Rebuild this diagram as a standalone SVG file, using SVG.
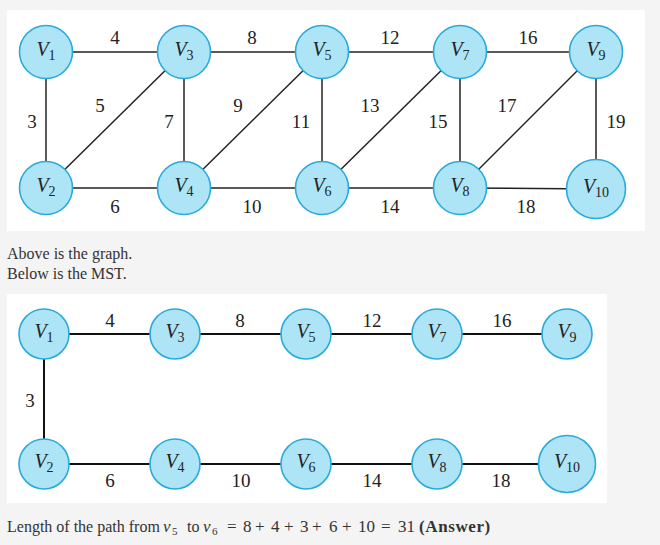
<svg xmlns="http://www.w3.org/2000/svg" width="660" height="545" viewBox="0 0 660 545">
<style>
.node circle{fill:#aee5f6;stroke:#2aaadc;stroke-width:1.6}
.vl{font-family:"Liberation Serif",serif;font-style:italic;font-size:20px;fill:#222;text-anchor:middle}
.sub{font-style:normal;font-size:14px}
.w{font-family:"Liberation Serif",serif;font-size:19px;fill:#222;text-anchor:middle}
.e1 line{stroke:#222;stroke-width:1.5}
.e2 line{stroke:#111;stroke-width:2}
.t{font-family:"Liberation Serif",serif;font-size:16px;fill:#333}
.m{font-size:17px}
.i{font-style:italic}
.s{font-size:11px}
.b{font-weight:bold;font-size:17px;letter-spacing:0.6px}
</style>
<rect x="0" y="0" width="660" height="545" fill="#f4f4f4"/>
<rect x="7" y="10" width="638" height="221" fill="#ffffff"/>
<rect x="7" y="294" width="600" height="209" fill="#ffffff"/>

<!-- Top graph connectors -->
<g id="edges-graph" class="e1">
<line x1="46" y1="52" x2="184" y2="52"/>
<line x1="184" y1="52" x2="322" y2="52"/>
<line x1="322" y1="52" x2="460" y2="52"/>
<line x1="460" y1="52" x2="596" y2="52"/>
<line x1="46" y1="188" x2="184" y2="188"/>
<line x1="184" y1="188" x2="322" y2="188"/>
<line x1="322" y1="188" x2="460" y2="188"/>
<line x1="460" y1="188" x2="596" y2="189"/>
<line x1="46" y1="52" x2="46" y2="188"/>
<line x1="184" y1="52" x2="184" y2="188"/>
<line x1="322" y1="52" x2="322" y2="188"/>
<line x1="460" y1="52" x2="460" y2="188"/>
<line x1="596" y1="52" x2="596" y2="189"/>
<line x1="46" y1="188" x2="184" y2="52"/>
<line x1="184" y1="188" x2="322" y2="52"/>
<line x1="322" y1="188" x2="460" y2="52"/>
<line x1="460" y1="188" x2="596" y2="52"/>
</g>
<g id="weights-graph">
<text class="w" x="115" y="44">4</text>
<text class="w" x="252" y="44">8</text>
<text class="w" x="390" y="44">12</text>
<text class="w" x="528" y="44">16</text>
<text class="w" x="32" y="128">3</text>
<text class="w" x="100" y="112">5</text>
<text class="w" x="169" y="128">7</text>
<text class="w" x="238" y="112">9</text>
<text class="w" x="301" y="128">11</text>
<text class="w" x="370" y="112">13</text>
<text class="w" x="438" y="128">15</text>
<text class="w" x="507" y="112">17</text>
<text class="w" x="616" y="128">19</text>
<text class="w" x="115" y="213">6</text>
<text class="w" x="252" y="213">10</text>
<text class="w" x="390" y="213">14</text>
<text class="w" x="526" y="213">18</text>
</g>
<g id="g-v1" class="node"><circle cx="46" cy="52" r="26.5"/><text class="vl" x="46" y="56">V<tspan class="sub" dy="4">1</tspan></text></g>
<g id="g-v3" class="node"><circle cx="184" cy="52" r="26.5"/><text class="vl" x="184" y="56">V<tspan class="sub" dy="4">3</tspan></text></g>
<g id="g-v5" class="node"><circle cx="322" cy="52" r="26.5"/><text class="vl" x="322" y="56">V<tspan class="sub" dy="4">5</tspan></text></g>
<g id="g-v7" class="node"><circle cx="460" cy="52" r="26.5"/><text class="vl" x="460" y="56">V<tspan class="sub" dy="4">7</tspan></text></g>
<g id="g-v9" class="node"><circle cx="596" cy="52" r="26.5"/><text class="vl" x="596" y="56">V<tspan class="sub" dy="4">9</tspan></text></g>
<g id="g-v2" class="node"><circle cx="46" cy="188" r="26.5"/><text class="vl" x="46" y="192">V<tspan class="sub" dy="4">2</tspan></text></g>
<g id="g-v4" class="node"><circle cx="184" cy="188" r="26.5"/><text class="vl" x="184" y="192">V<tspan class="sub" dy="4">4</tspan></text></g>
<g id="g-v6" class="node"><circle cx="322" cy="188" r="26.5"/><text class="vl" x="322" y="192">V<tspan class="sub" dy="4">6</tspan></text></g>
<g id="g-v8" class="node"><circle cx="460" cy="188" r="26.5"/><text class="vl" x="460" y="192">V<tspan class="sub" dy="4">8</tspan></text></g>
<g id="g-v10" class="node"><circle cx="596" cy="189" r="29.5"/><text class="vl" x="596" y="193">V<tspan class="sub" dy="4">10</tspan></text></g>

<text class="t" x="7" y="259">Above is the graph.</text>
<text class="t" x="7" y="279">Below is the MST.</text>

<!-- MST connectors -->
<g id="edges-mst" class="e2">
<line x1="44" y1="334" x2="175" y2="334"/>
<line x1="175" y1="334" x2="306" y2="334"/>
<line x1="306" y1="334" x2="437" y2="334"/>
<line x1="437" y1="334" x2="567" y2="334"/>
<line x1="44" y1="334" x2="44" y2="464"/>
<line x1="44" y1="464" x2="175" y2="464"/>
<line x1="175" y1="464" x2="306" y2="464"/>
<line x1="306" y1="464" x2="437" y2="464"/>
<line x1="437" y1="464" x2="567" y2="464"/>
</g>
<g id="weights-mst">
<text class="w" x="110" y="327">4</text>
<text class="w" x="240" y="327">8</text>
<text class="w" x="372" y="327">12</text>
<text class="w" x="502" y="327">16</text>
<text class="w" x="30" y="407">3</text>
<text class="w" x="110" y="487">6</text>
<text class="w" x="241" y="487">10</text>
<text class="w" x="372" y="487">14</text>
<text class="w" x="501" y="487">18</text>
</g>
<g id="m-v1" class="node"><circle cx="44" cy="334" r="25"/><text class="vl" x="44" y="338">V<tspan class="sub" dy="4">1</tspan></text></g>
<g id="m-v3" class="node"><circle cx="175" cy="334" r="25"/><text class="vl" x="175" y="338">V<tspan class="sub" dy="4">3</tspan></text></g>
<g id="m-v5" class="node"><circle cx="306" cy="334" r="25"/><text class="vl" x="306" y="338">V<tspan class="sub" dy="4">5</tspan></text></g>
<g id="m-v7" class="node"><circle cx="437" cy="334" r="25"/><text class="vl" x="437" y="338">V<tspan class="sub" dy="4">7</tspan></text></g>
<g id="m-v9" class="node"><circle cx="567" cy="334" r="25"/><text class="vl" x="567" y="338">V<tspan class="sub" dy="4">9</tspan></text></g>
<g id="m-v2" class="node"><circle cx="44" cy="464" r="25"/><text class="vl" x="44" y="468">V<tspan class="sub" dy="4">2</tspan></text></g>
<g id="m-v4" class="node"><circle cx="175" cy="464" r="25"/><text class="vl" x="175" y="468">V<tspan class="sub" dy="4">4</tspan></text></g>
<g id="m-v6" class="node"><circle cx="306" cy="464" r="25"/><text class="vl" x="306" y="468">V<tspan class="sub" dy="4">6</tspan></text></g>
<g id="m-v8" class="node"><circle cx="437" cy="464" r="25"/><text class="vl" x="437" y="468">V<tspan class="sub" dy="4">8</tspan></text></g>
<g id="m-v10" class="node"><circle cx="567" cy="464" r="28.5"/><text class="vl" x="567" y="468">V<tspan class="sub" dy="4">10</tspan></text></g>

<text class="t" x="7" y="532">Length of the path from <tspan class="i m" x="163">v</tspan><tspan class="s" x="172" dy="3">5</tspan><tspan x="187" dy="-3">to</tspan> <tspan class="i m" x="203">v</tspan><tspan class="s" x="212" dy="3">6</tspan><tspan class="m" x="227" dy="-3">=</tspan><tspan class="m" x="243">8</tspan><tspan class="m" x="255">+</tspan><tspan class="m" x="271">4</tspan><tspan class="m" x="284">+</tspan><tspan class="m" x="300">3</tspan><tspan class="m" x="312">+</tspan><tspan class="m" x="329">6</tspan><tspan class="m" x="342">+</tspan><tspan class="m" x="358">10</tspan><tspan class="m" x="381">=</tspan><tspan class="m" x="398">31</tspan><tspan class="b" x="419">(Answer)</tspan></text>
</svg>
